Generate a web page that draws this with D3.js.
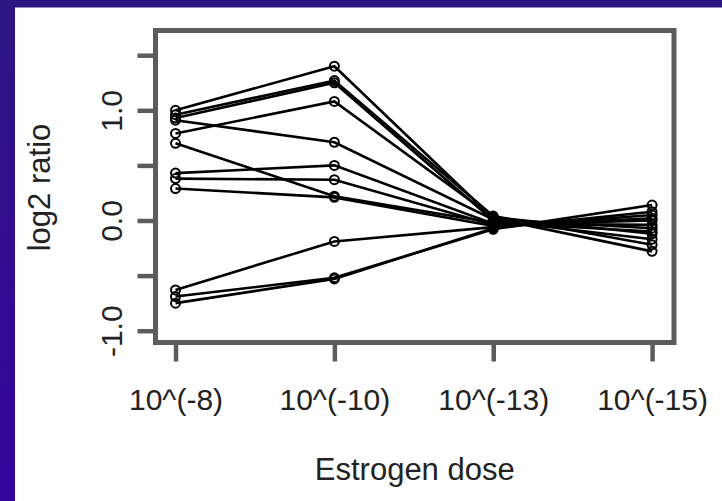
<!DOCTYPE html>
<html>
<head>
<meta charset="utf-8">
<script src="https://cdn.jsdelivr.net/npm/d3@7"></script>
<style>
  html, body { margin: 0; padding: 0; background: #fff; }
</style>
</head>
<body>
<div id="chart"></div>
<script>
// Dose categories along the x axis.
const doses = ["10^(-8)", "10^(-10)", "10^(-13)", "10^(-15)"];

// Y axis ticks and the ones that carry a label.
const yTicks = [-1, -0.5, 0, 0.5, 1, 1.5];
const yTickLabels = [-1, 0, 1];

// log2 ratio of each gene at the four doses.
const gene01 = [1.00, 1.40, 0.02, -0.28];
const gene02 = [0.96, 1.27, 0.04, -0.22];
const gene03 = [0.93, 1.25, 0.00, -0.17];
const gene04 = [0.79, 1.08, 0.03, -0.12];
const gene05 = [0.91, 0.71, 0.01, -0.07];
const gene06 = [0.70, 0.22, -0.02, -0.10];
const gene07 = [0.43, 0.50, -0.03, -0.04];
const gene08 = [0.38, 0.37, -0.04, 0.00];
const gene09 = [0.29, 0.21, -0.05, 0.02];
const gene10 = [-0.63, -0.19, -0.06, 0.05];
const gene11 = [-0.69, -0.52, -0.08, 0.14];
const gene12 = [-0.75, -0.53, -0.07, 0.08];

const genes = [gene01, gene02, gene03, gene04, gene05, gene06,
               gene07, gene08, gene09, gene10, gene11, gene12];

const width = 722;
const height = 501;
const font = "'Liberation Sans', Arial, Helvetica, sans-serif";

// Plot box.
const box = { left: 155.5, right: 674, top: 30.5, bottom: 342.5 };

const svg = d3.select("#chart")
  .append("svg")
  .attr("width", width)
  .attr("height", height);

// Slide background: purple border on the left and top.
const grad = svg.append("defs")
  .append("linearGradient")
  .attr("id", "bg")
  .attr("x1", 0).attr("y1", 0).attr("x2", 0).attr("y2", 1);
grad.append("stop").attr("offset", "0%").attr("stop-color", "#2d1682");
grad.append("stop").attr("offset", "100%").attr("stop-color", "#34049c");

svg.append("rect")
  .attr("width", width)
  .attr("height", height)
  .attr("fill", "url(#bg)");

svg.append("rect")
  .attr("x", 15)
  .attr("y", 7.5)
  .attr("width", width - 15)
  .attr("height", height - 7.5)
  .attr("fill", "#fff");

// Scales.
const x = d3.scaleLinear()
  .domain([-0.126, 3.138])
  .range([box.left, box.right]);

const y = d3.scaleLinear()
  .domain([-1.107, 1.724])
  .range([box.bottom, box.top]);

// X axis ticks.
const xAxis = svg.append("g")
  .attr("transform", `translate(0,${box.bottom})`)
  .call(d3.axisBottom(x)
    .tickValues(d3.range(doses.length))
    .tickSize(19)
    .tickPadding(27)
    .tickFormat((i) => doses[i]));

xAxis.select(".domain").remove();
xAxis.selectAll("line")
  .attr("stroke", "#5c5c5c")
  .attr("stroke-width", 4.5);
xAxis.selectAll("text")
  .attr("fill", "#222")
  .attr("font-size", 30)
  .attr("font-family", font);

// Y axis ticks (R prints a plain hyphen for the minus sign).
const yAxis = svg.append("g")
  .attr("transform", `translate(${box.left},0)`)
  .call(d3.axisLeft(y)
    .tickValues(yTicks)
    .tickSize(18)
    .tickFormat((v) => (yTickLabels.includes(v) ? v.toFixed(1) : "")));

yAxis.select(".domain").remove();
yAxis.selectAll("line")
  .attr("stroke", "#5c5c5c")
  .attr("stroke-width", 4.5);
// R draws y labels parallel to the axis.
yAxis.selectAll("text")
  .attr("x", null)
  .attr("dy", null)
  .attr("transform", `translate(${122 - box.left},0) rotate(-90)`)
  .attr("text-anchor", "middle")
  .attr("fill", "#222")
  .attr("font-size", 30)
  .attr("font-family", font);

// Lines and open circles for each gene.
const line = d3.line()
  .x((d, i) => x(i))
  .y((d) => y(d));

const plot = svg.append("g");

plot.selectAll("path.gene")
  .data(genes)
  .join("path")
  .attr("class", "gene")
  .attr("d", line)
  .attr("fill", "none")
  .attr("stroke", "#000")
  .attr("stroke-width", 2.6);

plot.selectAll("g.pts")
  .data(genes)
  .join("g")
  .attr("class", "pts")
  .selectAll("circle")
  .data((d) => d)
  .join("circle")
  .attr("cx", (d, i) => x(i))
  .attr("cy", (d) => y(d))
  .attr("r", 4.5)
  .attr("fill", "none")
  .attr("stroke", "#000")
  .attr("stroke-width", 2);

// Plot frame.
svg.append("rect")
  .attr("x", box.left)
  .attr("y", box.top)
  .attr("width", box.right - box.left)
  .attr("height", box.bottom - box.top)
  .attr("fill", "none")
  .attr("stroke", "#5c5c5c")
  .attr("stroke-width", 5);

// Axis titles.
svg.append("text")
  .attr("x", (box.left + box.right) / 2)
  .attr("y", 480)
  .attr("text-anchor", "middle")
  .attr("fill", "#222")
  .attr("font-size", 31)
  .attr("font-family", font)
  .text("Estrogen dose");

svg.append("text")
  .attr("transform", "translate(50,187.5) rotate(-90)")
  .attr("text-anchor", "middle")
  .attr("fill", "#222")
  .attr("font-size", 31)
  .attr("font-family", font)
  .text("log2 ratio");
</script>
</body>
</html>
